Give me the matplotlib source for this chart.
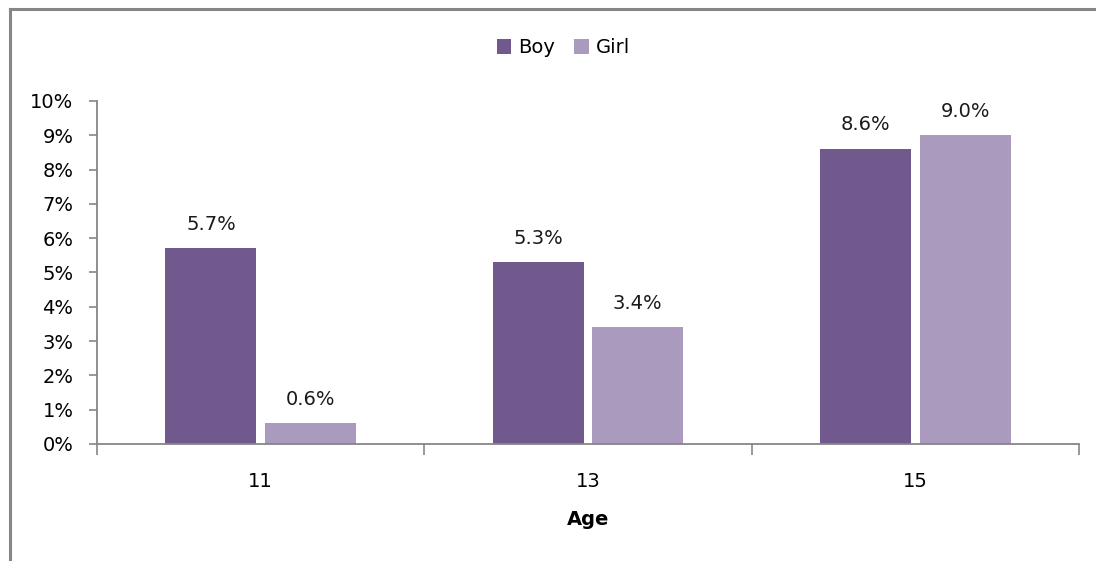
import numpy as np
import matplotlib.pyplot as plt
from matplotlib.lines import Line2D

ages = ["11", "13", "15"]
boy = [5.7, 5.3, 8.6]
girl = [0.6, 3.4, 9.0]
series_names = ["Boy", "Girl"]
y_ticks = [0, 1, 2, 3, 4, 5, 6, 7, 8, 9, 10]

boy_color = "#71598D"
girl_color = "#A99ABE"
axis_color = "#868686"

plt.rcParams['font.family'] = ['DejaVu Sans']

fig = plt.figure(figsize=(10.96, 5.61), dpi=100)
ax = fig.add_axes([0.0885, 0.2086, 0.896, 0.6114])

x = np.arange(len(ages))
width = 0.278
offset = 0.152
bars_b = ax.bar(x - offset, boy, width, color=boy_color, label=series_names[0])
bars_g = ax.bar(x + offset, girl, width, color=girl_color, label=series_names[1])

for bars in (bars_b, bars_g):
    for b in bars:
        h = b.get_height()
        ax.annotate(f"{h:.1f}%", (b.get_x() + b.get_width() / 2, h),
                    xytext=(0, 10.5), textcoords="offset points",
                    ha="center", va="bottom", fontsize=14, color="#1a1a1a")

ax.set_xlim(-0.5, len(ages) - 0.5)
ax.set_ylim(0, 10)
ax.set_yticks(y_ticks)
ax.set_yticklabels([f"{v}%" for v in y_ticks], fontsize=14)

# category labels centered, ticks between categories
ax.set_xticks(x)
ax.set_xticklabels(ages, fontsize=14)
ax.tick_params(axis="x", length=0, pad=20)
ax.set_xticks(np.arange(-0.5, len(ages)), minor=True)
ax.tick_params(axis="x", which="minor", length=8, color=axis_color, width=1.2)
ax.tick_params(axis="y", length=6, color=axis_color, width=1.2, pad=11)

for side in ("top", "right"):
    ax.spines[side].set_visible(False)
for side in ("left", "bottom"):
    ax.spines[side].set_color(axis_color)
    ax.spines[side].set_linewidth(1.3)

ax.set_xlabel("Age", fontsize=14, fontweight="bold", labelpad=13.5)

fig.legend(handles=[bars_b, bars_g], labels=series_names, loc="center",
           bbox_to_anchor=(0.514, 0.915), ncol=2, frameon=False, fontsize=14,
           handlelength=0.75, handleheight=0.75, handletextpad=0.35,
           columnspacing=1.0)

# outer chart frame (left and top edges visible)
fig.add_artist(Line2D([0.0092, 0.0092], [0.0, 0.984], color=axis_color,
                      lw=2.2, transform=fig.transFigure))
fig.add_artist(Line2D([0.0092, 1.0], [0.984, 0.984], color=axis_color,
                      lw=2.2, transform=fig.transFigure))

fig.savefig("out.png", dpi=100)
